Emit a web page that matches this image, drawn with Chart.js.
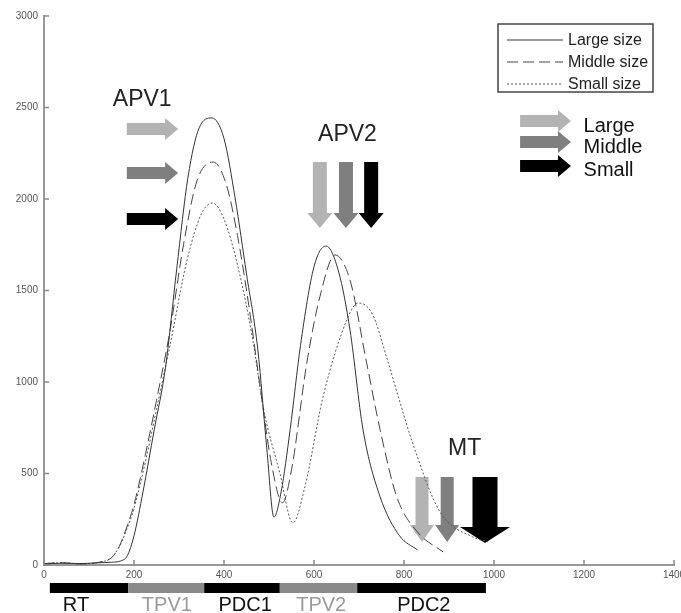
<!DOCTYPE html>
<html>
<head>
<meta charset="utf-8">
<script src="https://cdn.jsdelivr.net/npm/chart.js@4"></script>
<style>
  html, body { margin: 0; padding: 0; background: #fff; overflow: hidden; }
  #wrap { width: 700px; height: 613px; }
</style>
</head>
<body>
<div id="wrap"><canvas id="chart" width="700" height="613"></canvas></div>
<script>
// curve samples (x = time, y = value)
const largeX = [0, 40, 80, 120, 150, 170, 185, 200, 220, 245, 270, 295, 320, 345, 373, 400, 425, 450, 475, 495, 511, 527, 547, 570, 600, 627, 655, 680, 709, 747, 790, 830];
const largeY = [5, 10, 8, 12, 15, 22, 50, 160, 400, 740, 1080, 1620, 2120, 2390, 2443, 2330, 2000, 1590, 1180, 640, 262, 400, 740, 1200, 1630, 1743, 1600, 1284, 738, 372, 160, 82];

const middleX = [0, 40, 80, 120, 150, 165, 180, 200, 225, 250, 280, 310, 340, 376, 405, 430, 455, 480, 505, 530, 550, 584, 613, 647, 680, 717, 747, 784, 830, 887];
const middleY = [8, 12, 6, 14, 40, 90, 180, 330, 600, 900, 1280, 1750, 2100, 2202, 2080, 1800, 1420, 980, 560, 340, 520, 1104, 1465, 1694, 1557, 1104, 738, 372, 180, 71];

const smallX = [0, 40, 80, 120, 150, 165, 180, 200, 225, 250, 280, 318, 350, 375, 400, 430, 464, 487, 524, 553, 580, 620, 673, 698, 730, 762, 791, 820, 880, 953, 987];
const smallY = [8, 12, 6, 14, 40, 90, 170, 310, 560, 850, 1200, 1667, 1920, 1978, 1890, 1640, 1230, 864, 503, 230, 430, 918, 1339, 1432, 1370, 1130, 890, 660, 290, 153, 126];

const xTicks = [0, 200, 400, 600, 800, 1000, 1200, 1400];
const yTicks = [0, 500, 1000, 1500, 2000, 2500, 3000];

// phase bar under the x axis
const phaseNames = ['RT', 'TPV1', 'PDC1', 'TPV2', 'PDC2'];
const phaseEdges = [13, 187, 356, 524, 696, 982];
const phaseLabelX = [71, 273, 447, 616, 844];

const sizeNames = ['Large', 'Middle', 'Small'];
const seriesNames = ['Large size', 'Middle size', 'Small size'];

const arrowColors = ['#b3b3b3', '#7f7f7f', '#000000'];
const phaseColors = ['#000', '#8a8a8a', '#000', '#8a8a8a', '#000'];
const phaseTextColors = ['#111', '#9a9a9a', '#111', '#9a9a9a', '#111'];
const lineDash = [[], [11, 5], [2, 2]];
const lineColors = ['#333', '#444', '#555'];
const FONT = '"Liberation Sans", Arial, sans-serif';

const toPoints = (xs, ys) => xs.map((x, i) => ({x: x, y: ys[i]}));

function hArrow(ctx, x0, x1, y, shaft, head, headLen, color) {
  ctx.fillStyle = color;
  ctx.beginPath();
  ctx.moveTo(x0, y - shaft / 2);
  ctx.lineTo(x1 - headLen, y - shaft / 2);
  ctx.lineTo(x1 - headLen, y - head / 2);
  ctx.lineTo(x1, y);
  ctx.lineTo(x1 - headLen, y + head / 2);
  ctx.lineTo(x1 - headLen, y + shaft / 2);
  ctx.lineTo(x0, y + shaft / 2);
  ctx.closePath();
  ctx.fill();
}

function vArrow(ctx, x, y0, y1, shaft, head, headLen, color) {
  ctx.fillStyle = color;
  ctx.beginPath();
  ctx.moveTo(x - shaft / 2, y0);
  ctx.lineTo(x + shaft / 2, y0);
  ctx.lineTo(x + shaft / 2, y1 - headLen);
  ctx.lineTo(x + head / 2, y1 - headLen);
  ctx.lineTo(x, y1);
  ctx.lineTo(x - head / 2, y1 - headLen);
  ctx.lineTo(x - shaft / 2, y1 - headLen);
  ctx.lineTo(x - shaft / 2, y0);
  ctx.closePath();
  ctx.fill();
}

const annotations = {
  id: 'annotations',
  beforeDatasetsDraw(chart) {
    const ctx = chart.ctx;
    const xs = chart.scales.x, ys = chart.scales.y;
    const px = v => xs.getPixelForValue(v);
    const py = v => ys.getPixelForValue(v);
    ctx.save();
    // APV1 arrows
    [2383, 2142, 1891].forEach((v, i) => hArrow(ctx, px(184), px(298), py(v), 12, 22, 13, arrowColors[i]));
    // APV2 arrows
    [613, 671, 727].forEach((v, i) => vArrow(ctx, px(v), py(2202), py(1842), 14, 25, 15, arrowColors[i]));
    // MT arrows
    vArrow(ctx, px(840), py(481), py(126), 13, 24, 17, arrowColors[0]);
    vArrow(ctx, px(896), py(481), py(126), 13, 24, 17, arrowColors[1]);
    vArrow(ctx, px(980), py(481), py(120), 25, 50, 16, arrowColors[2]);
    // right-hand arrow key
    [2426, 2311, 2180].forEach((v, i) => hArrow(ctx, px(1058), px(1171), py(v), 12, 22, 13, arrowColors[i]));
    ctx.fillStyle = '#111';
    ctx.font = '20px ' + FONT;
    ctx.textBaseline = 'middle';
    ctx.textAlign = 'left';
    [2398, 2283, 2158].forEach((v, i) => ctx.fillText(sizeNames[i], px(1199), py(v)));

    ctx.font = '23px ' + FONT;
    ctx.fillStyle = '#222';
    ctx.fillText('APV1', px(153), py(2541));
    ctx.fillText('APV2', px(609), py(2350));
    ctx.fillText('MT', px(898), py(634));
    ctx.restore();
  },
  afterDraw(chart) {
    const ctx = chart.ctx;
    const xs = chart.scales.x, ys = chart.scales.y;
    const area = chart.chartArea;
    ctx.save();
    // inward tick marks
    ctx.strokeStyle = '#888';
    ctx.lineWidth = 1.5;
    yTicks.forEach(v => {
      const y = ys.getPixelForValue(v);
      ctx.beginPath(); ctx.moveTo(area.left, y); ctx.lineTo(area.left + 5, y); ctx.stroke();
    });
    xTicks.forEach(v => {
      const x = xs.getPixelForValue(v);
      ctx.beginPath(); ctx.moveTo(x, area.bottom); ctx.lineTo(x, area.bottom - 5); ctx.stroke();
    });

    // phase bar
    const barTop = area.bottom + 18;
    phaseNames.forEach((name, i) => {
      const x0 = xs.getPixelForValue(phaseEdges[i]);
      const x1 = xs.getPixelForValue(phaseEdges[i + 1]);
      ctx.fillStyle = phaseColors[i];
      ctx.fillRect(x0, barTop, x1 - x0, 10);
      ctx.fillStyle = phaseTextColors[i];
      ctx.font = '20px ' + FONT;
      ctx.textAlign = 'center';
      ctx.textBaseline = 'middle';
      ctx.fillText(name, xs.getPixelForValue(phaseLabelX[i]), area.bottom + 40);
    });

    // line legend box
    const bx = 498, by = 24, bw = 155, bh = 68;
    ctx.fillStyle = '#fff';
    ctx.fillRect(bx, by, bw, bh);
    ctx.strokeStyle = '#444';
    ctx.lineWidth = 1.5;
    ctx.strokeRect(bx, by, bw, bh);
    seriesNames.forEach((name, i) => {
      const y = by + 16 + i * 22;
      ctx.strokeStyle = lineColors[i];
      ctx.lineWidth = 1;
      ctx.setLineDash(lineDash[i]);
      ctx.beginPath(); ctx.moveTo(bx + 9, y); ctx.lineTo(bx + 65, y); ctx.stroke();
      ctx.setLineDash([]);
      ctx.fillStyle = '#222';
      ctx.font = '16px ' + FONT;
      ctx.textAlign = 'left';
      ctx.textBaseline = 'middle';
      ctx.fillText(name, bx + 70, y + 1);
    });
    ctx.restore();
  }
};

const series = [[largeX, largeY], [middleX, middleY], [smallX, smallY]];

new Chart(document.getElementById('chart'), {
  type: 'line',
  data: {
    datasets: series.map((s, i) => ({
      label: seriesNames[i],
      data: toPoints(s[0], s[1]),
      borderColor: lineColors[i],
      borderWidth: 1,
      borderDash: lineDash[i],
      pointRadius: 0,
      fill: false,
      cubicInterpolationMode: 'monotone'
    }))
  },
  options: {
    responsive: false,
    animation: false,
    layout: { padding: { top: 16, right: 26, left: 0, bottom: 0 } },
    plugins: { legend: { display: false }, tooltip: { enabled: false } },
    scales: {
      x: {
        type: 'linear',
        min: 0, max: 1400,
        afterBuildTicks: s => { s.ticks = xTicks.map(v => ({value: v})); },
        afterFit: s => { s.height = 48; },
        grid: { display: false, drawTicks: false },
        border: { display: true, color: '#999', width: 2 },
        ticks: { font: { size: 10, family: FONT }, color: '#555', padding: 4, maxRotation: 0, callback: v => String(v) }
      },
      y: {
        min: 0, max: 3000,
        afterBuildTicks: s => { s.ticks = yTicks.map(v => ({value: v})); },
        afterFit: s => { s.width = 44; },
        grid: { display: false, drawTicks: false },
        border: { display: true, color: '#999', width: 2 },
        ticks: { font: { size: 10, family: FONT }, color: '#555', padding: 6, callback: v => String(v) }
      }
    }
  },
  plugins: [annotations]
});
</script>
</body>
</html>
